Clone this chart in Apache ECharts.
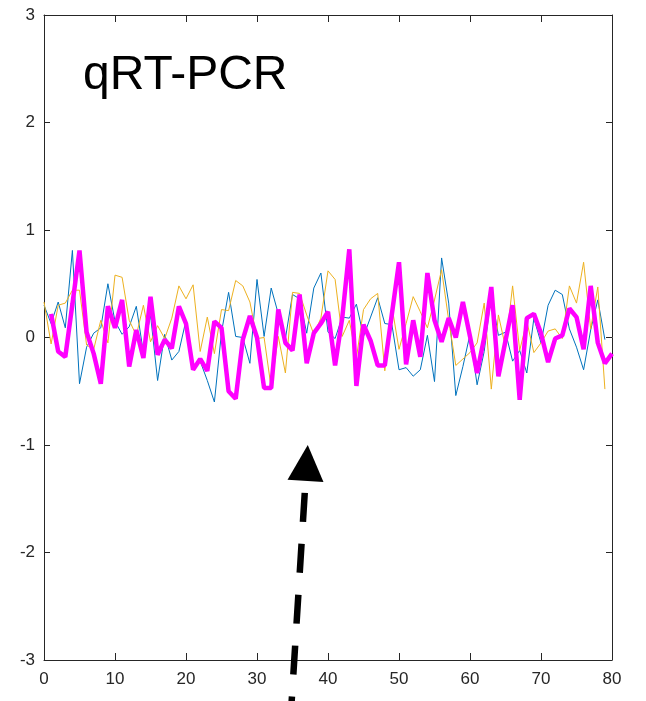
<!DOCTYPE html>
<html>
<head>
<meta charset="utf-8">
<script src="https://cdn.jsdelivr.net/npm/echarts@6/dist/echarts.min.js"></script>
<style>
  html, body { margin: 0; padding: 0; background: #fff; }
  #chart { width: 646px; height: 701px; }
</style>
</head>
<body>
<div id="chart"></div>
<script>
// Three replicate traces; values indexed by integer position on the x axis.
const blueStart = 0;
const blueValues = [
  0.30, 0.13, 0.33, 0.09, 0.81, -0.43, -0.09, 0.04, 0.09, 0.50,
  0.15, 0.03, 0.10, 0.29, -0.14, 0.21, -0.40, 0.03, -0.21, -0.13,
  0.16, -0.27, -0.22, -0.40, -0.60, 0.05, 0.42, 0.01, 0.00, -0.24,
  0.54, 0.01, 0.46, 0.22, -0.01, 0.40, 0.36, 0.04, 0.46, 0.60,
  0.05, -0.01, 0.19, 0.18, 0.31, 0.01, 0.19, 0.37, 0.13, 0.12,
  -0.30, -0.28, -0.36, -0.30, 0.02, -0.41, 0.74, 0.32, -0.54, -0.27,
  0.03, -0.44, -0.13, 0.40, 0.02, 0.05, -0.22, -0.12, -0.33, 0.18,
  -0.05, 0.30, 0.44, 0.40, 0.08, -0.09, -0.30, 0.07, 0.35, -0.02
];

const orangeStart = 0;
const orangeValues = [
  0.33, -0.06, 0.30, 0.32, 0.44, 0.44, -0.07, -0.11, 0.16, -0.05,
  0.58, 0.56, 0.16, 0.02, 0.30, -0.04, 0.11, -0.01, 0.18, 0.48,
  0.36, 0.49, -0.13, 0.19, -0.15, 0.26, 0.25, 0.53, 0.48, 0.33,
  -0.01, 0.00, -0.47, 0.01, -0.33, 0.42, 0.41, 0.21, 0.03, 0.18,
  0.62, 0.54, 0.01, 0.16, -0.19, 0.26, 0.36, 0.41, -0.31, 0.29,
  -0.11, 0.13, 0.38, 0.24, 0.09, 0.35, 0.63, 0.16, -0.26, -0.20,
  -0.14, -0.05, 0.32, -0.48, 0.21, -0.09, 0.48, -0.12, 0.15, -0.14,
  -0.05, 0.06, 0.08, -0.01, 0.48, 0.32, 0.70, 0.08, 0.47, -0.48
];

const magentaStart = 1;
const magentaValues = [
  0.22, -0.13, -0.18, 0.31, 0.81, 0.05, -0.15, -0.43, 0.29, 0.09,
  0.35, -0.27, 0.07, -0.19, 0.38, -0.16, -0.02, -0.10, 0.29, 0.13,
  -0.30, -0.20, -0.31, 0.15, 0.09, -0.50, -0.57, -0.02, 0.20, 0.00,
  -0.47, -0.47, 0.26, -0.05, -0.12, 0.40, -0.24, 0.04, 0.13, 0.24,
  -0.26, 0.18, 0.82, -0.45, 0.12, -0.03, -0.26, -0.26, 0.22, 0.70,
  -0.25, 0.16, -0.18, 0.60, 0.16, -0.04, 0.18, 0.00, 0.33, 0.01,
  -0.33, 0.00, 0.47, -0.36, -0.03, 0.30, -0.58, 0.18, 0.22, 0.04,
  -0.23, -0.01, 0.02, 0.27, 0.19, -0.11, 0.48, -0.05, -0.24, -0.15
];

const xTicks = [0, 10, 20, 30, 40, 50, 60, 70, 80];
const yTicks = [-3, -2, -1, 0, 1, 2, 3];

// Annotation arrow, in data units: tail below the axis, tip pointing up.
const arrowTail = [34.8, -3.47];
const arrowTip = [37.15, -1.0];

const toPairs = (start, vals) => vals.map((v, i) => [start + i, v]);

const axisColor = '#262626';
const font = 'Arial, "Liberation Sans", Helvetica, sans-serif';

const chart = echarts.init(document.getElementById('chart'), null, { renderer: 'canvas' });

const baseX = {
  type: 'value',
  min: xTicks[0],
  max: xTicks[xTicks.length - 1],
  interval: 10,
  splitLine: { show: false },
  axisLine: { show: true, onZero: false, lineStyle: { color: axisColor, width: 1 } },
  axisTick: { show: true, inside: true, length: 7, lineStyle: { color: axisColor } }
};
const baseY = {
  type: 'value',
  min: yTicks[0],
  max: yTicks[yTicks.length - 1],
  interval: 1,
  splitLine: { show: false },
  axisLine: { show: true, onZero: false, lineStyle: { color: axisColor, width: 1 } },
  axisTick: { show: true, inside: true, length: 6, lineStyle: { color: axisColor } }
};

chart.setOption({
  animation: false,
  backgroundColor: '#ffffff',
  title: {
    text: 'qRT-PCR',
    left: 78,
    top: 47,
    textStyle: { fontFamily: font, fontSize: 48, fontWeight: 'normal', color: '#000' }
  },
  grid: { left: 44, right: 34, top: 15, bottom: 41, containLabel: false },
  xAxis: [
    Object.assign({}, baseX, {
      position: 'bottom',
      axisLabel: { show: true, color: axisColor, fontSize: 17, fontFamily: font, margin: 11 }
    }),
    Object.assign({}, baseX, {
      position: 'top',
      axisLabel: { show: false }
    })
  ],
  yAxis: [
    Object.assign({}, baseY, {
      position: 'left',
      axisLabel: { show: true, color: axisColor, fontSize: 17, fontFamily: font, margin: 9 }
    }),
    Object.assign({}, baseY, {
      position: 'right',
      axisLabel: { show: false }
    })
  ],
  series: [
    {
      type: 'line',
      data: toPairs(blueStart, blueValues),
      showSymbol: false,
      lineStyle: { color: '#0072BD', width: 1 },
      z: 2
    },
    {
      type: 'line',
      data: toPairs(orangeStart, orangeValues),
      showSymbol: false,
      lineStyle: { color: '#EDB120', width: 1 },
      z: 3
    },
    {
      type: 'line',
      data: toPairs(magentaStart, magentaValues),
      showSymbol: false,
      lineStyle: { color: '#FF00FF', width: 4.5 },
      z: 4
    }
  ]
});

// Dashed arrow drawn from data coordinates.
function drawArrow() {
  const tail = chart.convertToPixel({ gridIndex: 0 }, arrowTail);
  const tip = chart.convertToPixel({ gridIndex: 0 }, arrowTip);
  const dx = tail[0] - tip[0], dy = tail[1] - tip[1];
  const len = Math.hypot(dx, dy);
  const ux = dx / len, uy = dy / len;       // unit vector tip -> tail
  const px = -uy, py = ux;                  // perpendicular
  const headLen = 36, headHalf = 18, gap = 12;
  const bx = tip[0] + ux * headLen, by = tip[1] + uy * headLen;
  const sx = tip[0] + ux * (headLen + gap), sy = tip[1] + uy * (headLen + gap);
  chart.setOption({
    graphic: [
      {
        type: 'line',
        shape: { x1: sx, y1: sy, x2: tail[0], y2: tail[1] },
        style: { stroke: '#000', lineWidth: 6.5, lineDash: [29, 22] },
        z: 100
      },
      {
        type: 'polygon',
        shape: { points: [
          [tip[0], tip[1]],
          [bx + px * headHalf, by + py * headHalf],
          [bx - px * headHalf, by - py * headHalf]
        ] },
        style: { fill: '#000' },
        z: 100
      }
    ]
  });
}
drawArrow();
</script>
</body>
</html>
